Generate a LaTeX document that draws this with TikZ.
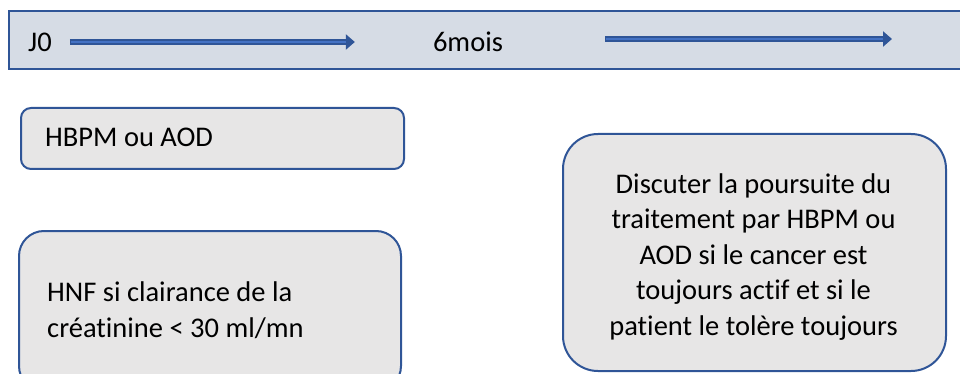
\documentclass[tikz,border=0pt]{standalone}
\usepackage{fontspec}
\setmainfont[Ligatures=NoCommon]{Carlito}
\usetikzlibrary{arrows.meta, positioning}
\definecolor{bordblue}{RGB}{47,85,151}
\definecolor{arrblue}{RGB}{68,114,196}
\definecolor{bandfill}{RGB}{214,220,229}
\definecolor{boxfill}{RGB}{231,230,230}
\tikzset{
  band/.style={rectangle, draw=bordblue, fill=bandfill, line width=2pt},
  card/.style={rectangle, draw=bordblue, fill=boxfill, line width=2pt},
  lbl/.style={font=\fontsize{28.5}{35.5}\selectfont, inner sep=0pt},
  timearrow/.style={draw=bordblue, line width=5.5pt,
    -{Triangle[length=9pt, width=15pt]},
    postaction={draw=arrblue, line width=2pt, shorten >=9pt, shorten <=1pt, -}}
}
\begin{document}
\begin{tikzpicture}[x=1pt, y=-1pt]
  \useasboundingbox (0,0) rectangle (960,374);
  \clip (0,0) rectangle (960,374);

  % timeline band
  \node[band, anchor=north west, minimum width=962pt, minimum height=58pt] (band) at (8,10) {};
  \node[lbl, anchor=west] (j0) at (28,42) {J0};
  \node[lbl] (mois) at (468,42) {6mois};
  \coordinate (suite) at (605,39);
  \coordinate (fin) at (892,39);
  \draw[timearrow] ([xshift=18pt]j0.east) -- ([xshift=-78pt]mois.west);
  \draw[timearrow] (suite) -- (fin);

  % treatment boxes
  \node[card, rounded corners=10pt, anchor=north west, minimum width=383pt, minimum height=61pt] (hbpm) at (20,107) {};
  \node[lbl, anchor=west] (hbpmtxt) at (45,137) {HBPM ou AOD};

  \node[card, rounded corners=25pt, anchor=north west, minimum width=382pt, minimum height=160pt] (hnf) at (18,230) {};
  \node[lbl, anchor=west, align=left] (hnftxt) at (47,310)
    {HNF si clairance de la\\cr\'eatinine < 30 ml/mn};

  \node[card, rounded corners=35pt, anchor=north west, minimum width=383pt, minimum height=237pt] (suivi) at (562,133) {};
  \node[lbl, align=center] (suivitxt) at (753.5,257)
    {Discuter la poursuite du\\traitement par HBPM ou\\AOD si le cancer est\\toujours actif et si le\\patient le tol\`ere toujours};
\end{tikzpicture}
\end{document}
